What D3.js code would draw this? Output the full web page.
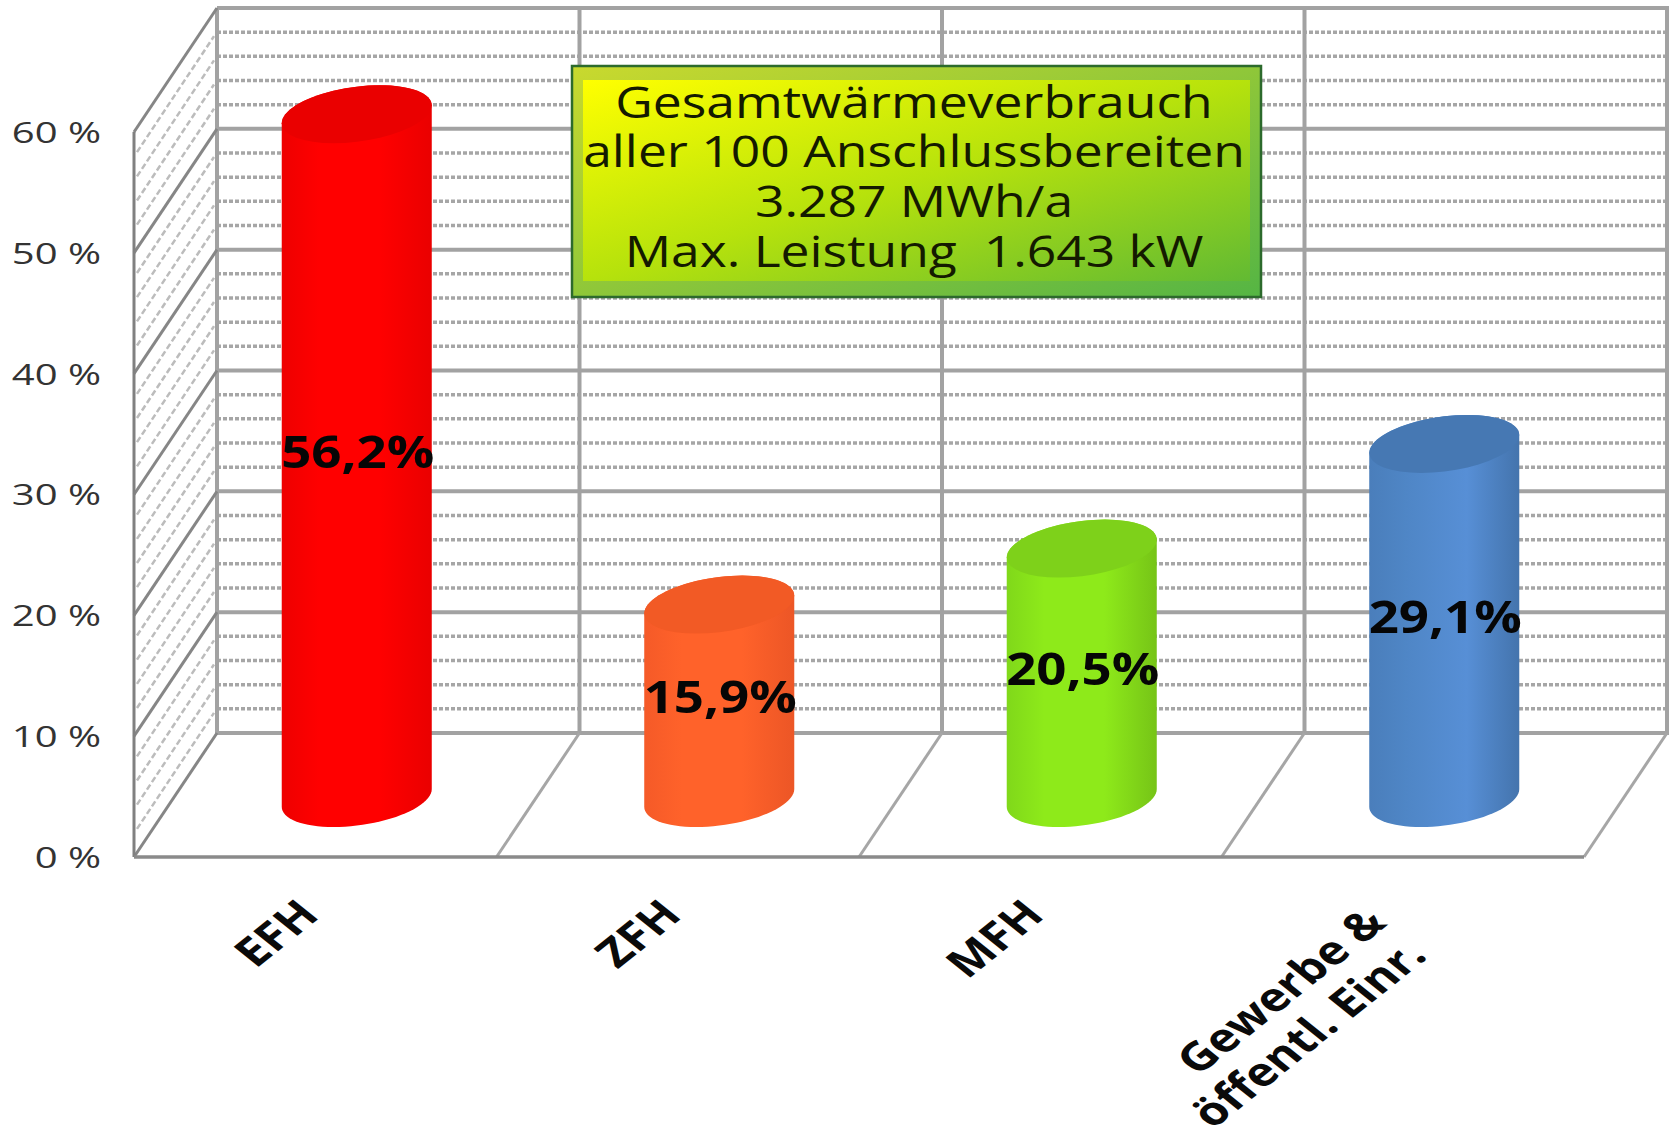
<!DOCTYPE html>
<html lang="de">
<head>
<meta charset="utf-8">
<title>Gesamtwärmeverbrauch</title>
<script src="https://cdn.jsdelivr.net/npm/d3@7"></script>
<style>
  html, body { margin: 0; padding: 0; background: #fff; }
  svg { display: block; }
  text { font-family: "Open Sans", sans-serif; }
</style>
</head>
<body>
<svg id="chart" width="1669" height="1127"></svg>
<script>
// Data
const categories = ["EFH", "ZFH", "MFH", "Gewerbe &\nöffentl. Einr."];
const shares = [56.2, 15.9, 20.5, 29.1];
const shareLabels = ["56,2%", "15,9%", "20,5%", "29,1%"];
const majorTicks = [0, 10, 20, 30, 40, 50, 60];
const minorTicks = d3.range(0, 60, 2).filter(v => v % 10 !== 0);
const infoLines = [
  "Gesamtwärmeverbrauch",
  "aller 100 Anschlussbereiten",
  "3.287 MWh/a",
  "Max. Leistung  1.643 kW"
];
const bodyStops = [
  ["#ee0000", "#ff0000", "#ff0000", "#ea0000"],
  ["#f55a28", "#ff622a", "#ff622a", "#ec5626"],
  ["#80d81a", "#8eea1a", "#8eea1a", "#76c417"],
  ["#4a7ebb", "#4f86c6", "#578fd6", "#4474ad"]
];
const capColors = ["#ea0000", "#f25a25", "#7ed11a", "#4678b3"];

// Oblique projection of the 3-D box
const depthX = 83, depthY = -124;
const frontLeft = 134, frontRight = 1584;
const y = d3.scaleLinear().domain([0, 60]).range([857, 132]);
const x = d3.scaleBand().domain(categories).range([frontLeft, frontRight]);
const barY = d3.scaleLinear().domain([0, 60]).range([798, 68]);
const backEdges = x.domain().map(c => x(c)).concat(frontRight);

const svg = d3.select("#chart");
const defs = svg.append("defs");
const gridGrey = "#a2a2a2";

// Back wall: minor dotted lines first, then major lines and verticals
const wall = svg.append("g");
wall.selectAll(".minor").data(minorTicks)
  .join("line")
  .attr("x1", frontLeft + depthX).attr("x2", 1669)
  .attr("y1", d => y(d) + depthY).attr("y2", d => y(d) + depthY)
  .attr("stroke", "#a6a6a6").attr("stroke-width", 3.5).attr("stroke-dasharray", "4 2");
wall.selectAll(".major").data(majorTicks)
  .join("line")
  .attr("x1", frontLeft + depthX).attr("x2", 1669)
  .attr("y1", d => y(d) + depthY).attr("y2", d => y(d) + depthY)
  .attr("stroke", gridGrey).attr("stroke-width", 4);
wall.selectAll(".vertical").data(backEdges)
  .join("line")
  .attr("x1", d => d + depthX).attr("x2", d => d + depthX)
  .attr("y1", y(60) + depthY).attr("y2", y(0) + depthY)
  .attr("stroke", gridGrey).attr("stroke-width", 4);

// Side wall
const side = svg.append("g");
side.selectAll(".hatch").data(minorTicks)
  .join("line")
  .attr("x1", frontLeft + 3).attr("x2", frontLeft + depthX - 3)
  .attr("y1", d => y(d) - 4).attr("y2", d => y(d) + depthY + 4)
  .attr("stroke", "#bcbcbc").attr("stroke-width", 2.5).attr("stroke-dasharray", "6 3");
side.selectAll(".diag").data(majorTicks)
  .join("line")
  .attr("x1", frontLeft).attr("x2", frontLeft + depthX)
  .attr("y1", d => y(d)).attr("y2", d => y(d) + depthY)
  .attr("stroke", "#868686").attr("stroke-width", 3);
side.append("line")
  .attr("x1", frontLeft).attr("x2", frontLeft)
  .attr("y1", y(60)).attr("y2", y(0))
  .attr("stroke", "#808080").attr("stroke-width", 3);

// Floor
const floor = svg.append("g");
floor.selectAll(".depth").data(backEdges.slice(1))
  .join("line")
  .attr("x1", d => d).attr("x2", d => d + depthX)
  .attr("y1", y(0)).attr("y2", y(0) + depthY)
  .attr("stroke", "#a6a6a6").attr("stroke-width", 3);
floor.append("line")
  .attr("x1", frontLeft).attr("x2", frontRight)
  .attr("y1", y(0)).attr("y2", y(0))
  .attr("stroke", "#8a8a8a").attr("stroke-width", 3.5);

// Cylinders
const radiusX = 71.4, skew = 23, radiusY = 29;
const tangent = Math.atan2(skew, radiusX);
const rim = (cx, cy, t) => [
  cx + radiusX * Math.cos(t) + skew * Math.sin(t),
  cy - radiusY * Math.sin(t)
];
const arc = (cx, cy, from, to) =>
  d3.range(0, 41).map(i => rim(cx, cy, from + (to - from) * i / 40));
const line = d3.line();
const bars = svg.append("g");
categories.forEach((c, i) => {
  const cx = x(c) + x.bandwidth() / 2 + depthX / 2;
  const top = barY(shares[i]), base = barY(0);
  const grad = defs.append("linearGradient").attr("id", "body" + i);
  [0, 0.25, 0.65, 1].forEach((o, k) =>
    grad.append("stop").attr("offset", o).attr("stop-color", bodyStops[i][k]));
  // side surface: down the left edge, round the base, up the right edge
  const outline = arc(cx, base, tangent + Math.PI, tangent + 2 * Math.PI)
    .concat(arc(cx, top, tangent, tangent + Math.PI));
  bars.append("path").attr("d", line(outline) + "Z").attr("fill", `url(#body${i})`);
  bars.append("path").attr("d", line(arc(cx, top, 0, 2 * Math.PI)) + "Z").attr("fill", capColors[i]);
  bars.append("text")
    .attr("transform", `translate(${cx + 1},${(top + base) / 2 - 5}) scale(1.2,1)`)
    .attr("text-anchor", "middle").attr("dominant-baseline", "central")
    .attr("font-size", 44).attr("font-weight", 700).attr("fill", "#060606")
    .text(shareLabels[i]);
});

// Value axis
const yAxis = svg.append("g")
  .attr("transform", "translate(101,0)")
  .call(d3.axisLeft(y).tickValues(majorTicks).tickSize(0).tickPadding(0).tickFormat(d => d + " %"));
yAxis.select(".domain").remove();
yAxis.selectAll("text")
  .attr("font-size", 29).attr("fill", "#333333").attr("dy", "0.36em")
  .style("font-family", '"Open Sans", sans-serif')
  .attr("transform", "scale(1.38,1)");

// Category labels, angled and ending just under their column
const catLabels = svg.append("g");
categories.forEach(c => {
  const parts = c.split("\n");
  const g = catLabels.append("g")
    .attr("transform", `translate(${x(c) + x.bandwidth() / 2 - 8},${906 + (parts.length - 1) * 24}) scale(1.25,1) rotate(-45)`);
  parts.forEach((p, k) => {
    g.append("text")
      .attr("y", (k - (parts.length - 1) / 2) * 46)
      .attr("text-anchor", "end").attr("dominant-baseline", "central")
      .attr("font-size", 39.5).attr("font-weight", 700).attr("fill", "#0a0a0a")
      .text(p);
  });
});

// Info box
const addGradient = (id, stops) => {
  const g = defs.append("linearGradient").attr("id", id)
    .attr("x1", 0).attr("y1", 0).attr("x2", 1).attr("y2", 1);
  stops.forEach((s, k) =>
    g.append("stop").attr("offset", k / (stops.length - 1)).attr("stop-color", s));
};
addGradient("boxOuter", ["#c9d92e", "#55b544"]);
addGradient("boxInner", ["#ffff00", "#b6e20c", "#62ba33"]);
const box = svg.append("g");
box.append("rect").attr("x", 572).attr("y", 66).attr("width", 689).attr("height", 231)
  .attr("fill", "url(#boxOuter)").attr("stroke", "#2c6a2c").attr("stroke-width", 2.5);
box.append("rect").attr("x", 583).attr("y", 80).attr("width", 667).attr("height", 201)
  .attr("fill", "url(#boxInner)");
box.selectAll("text").data(infoLines).join("text")
  .attr("transform", (d, i) => `translate(914,${101 + i * 49.6}) scale(1.2,1)`)
  .attr("text-anchor", "middle").attr("dominant-baseline", "central")
  .attr("font-size", 43).attr("fill", "#141a00")
  .attr("xml:space", "preserve").style("white-space", "pre")
  .text(d => d);
</script>
</body>
</html>
